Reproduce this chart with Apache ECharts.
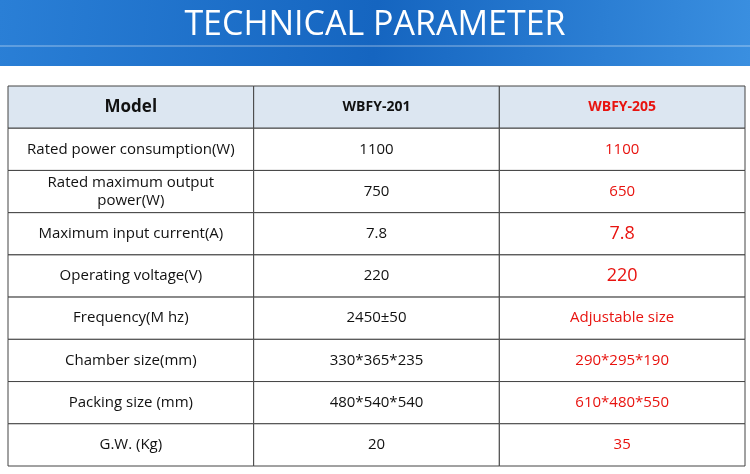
<!DOCTYPE html><html><head><meta charset="utf-8">
<script src="https://cdn.jsdelivr.net/npm/echarts@6/dist/echarts.min.js"></script>
<style>html,body{margin:0;padding:0;background:#fff}#c{width:750px;height:474px}</style></head><body><div id="c"></div>
<script>
const title = 'TECHNICAL PARAMETER';
const headers = ['Model', 'WBFY-201', 'WBFY-205'];
const params = ['Rated power consumption(W)', 'Rated maximum output\npower(W)', 'Maximum input current(A)', 'Operating voltage(V)', 'Frequency(M hz)', 'Chamber size(mm)', 'Packing size (mm)', 'G.W. (Kg)'];
const wbfy201 = ['1100', '750', '7.8', '220', '2450±50', '330*365*235', '480*540*540', '20'];
const wbfy205 = ['1100', '650', '7.8', '220', 'Adjustable size', '290*295*190', '610*480*550', '35'];
const bigCells = ['7.8', '220'];
const rows = [headers].concat(params.map((p, i) => [p, wbfy201[i], wbfy205[i]]));
const data = [];
rows.forEach((r, ri) => r.forEach((t, ci) => data.push([ci, ri, t])));
const chart = echarts.init(document.getElementById('c'));
chart.setOption({
  animation: false,
  graphic: [
    {type: 'rect', shape: {x: 0, y: 0, width: 750, height: 66},
     style: {fill: new echarts.graphic.LinearGradient(0, 0, 1, 1, [{offset: 0, color: '#2a7fd6'}, {offset: 0.5, color: '#1565c0'}, {offset: 1, color: '#3a8fe0'}])}},
    {type: 'text', x: 375, y: 25, style: {text: title, fill: '#fff', font: '34px "Open Sans", sans-serif', align: 'center', verticalAlign: 'middle'}},
    {type: 'line', shape: {x1: 0, y1: 46, x2: 750, y2: 46}, style: {stroke: 'rgba(255,255,255,0.5)', lineWidth: 1}}
  ],
  grid: {left: 8, right: 5, top: 86, bottom: 8},
  xAxis: {type: 'category', data: [0, 1, 2], show: false},
  yAxis: {type: 'category', data: rows.map((r, i) => i), inverse: true, show: false},
  series: [{
    type: 'custom', data: data,
    renderItem: function (params, api) {
      const c = api.value(0), r = api.value(1), t = rows[r][c];
      const p = api.coord([c, r]);
      const s = api.size([1, 1]);
      const isHead = r === 0;
      let color = c === 2 ? '#e8130f' : '#111';
      let size = 15, weight = 'normal';
      if (isHead) { weight = 'bold'; size = c === 0 ? 17 : 14; }
      if (c === 2 && bigCells.includes(t)) size = 18;
      return {type: 'group', children: [
        {type: 'rect', shape: {x: p[0] - s[0] / 2, y: p[1] - s[1] / 2, width: s[0], height: s[1]},
         style: {fill: isHead ? '#dce6f1' : '#fff', stroke: '#444', lineWidth: 1}},
        {type: 'text', x: p[0], y: p[1], style: {text: t, fill: color, align: 'center', verticalAlign: 'middle',
         font: weight + ' ' + size + 'px "Open Sans", sans-serif', lineHeight: 18}}
      ]};
    }
  }]
});
</script></body></html>
